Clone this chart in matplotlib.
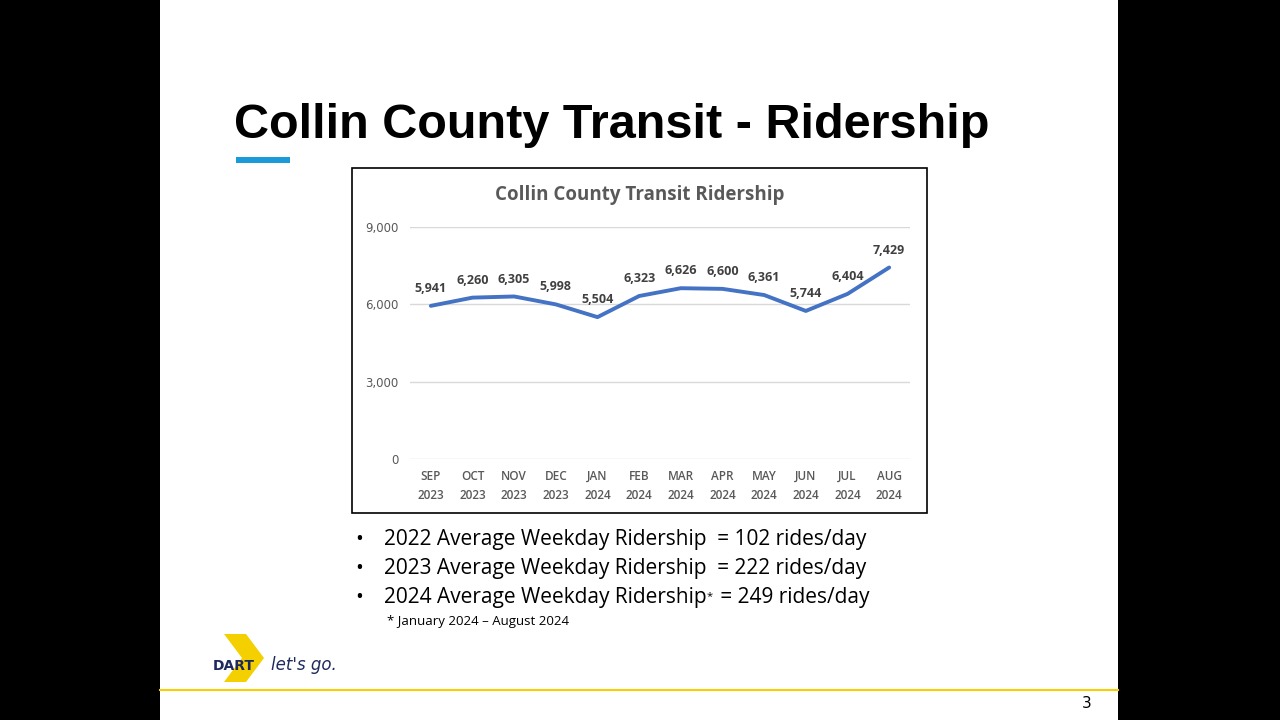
import matplotlib.pyplot as plt
from matplotlib.patches import Rectangle, Polygon

months = ["SEP\n2023", "OCT\n2023", "NOV\n2023", "DEC\n2023", "JAN\n2024", "FEB\n2024",
          "MAR\n2024", "APR\n2024", "MAY\n2024", "JUN\n2024", "JUL\n2024", "AUG\n2024"]
riders = [5941, 6260, 6305, 5998, 5504, 6323, 6626, 6600, 6361, 5744, 6404, 7429]
yticks = [0, 3000, 6000, 9000]
bullets = ["2022 Average Weekday Ridership  = 102 rides/day",
           "2023 Average Weekday Ridership  = 222 rides/day",
           "2024 Average Weekday Ridership",
           ]

W, H = 1280, 720
fig = plt.figure(figsize=(12.8, 7.2), dpi=100)
fig.patch.set_facecolor("black")

def px(x, y):
    return x / W, 1 - y / H

# white slide
fig.patches.append(Rectangle(px(160, 720), 958 / W, 720 / H, transform=fig.transFigure,
                             facecolor="white", zorder=0))
fig.text(*px(234, 125), "Collin County Transit - Ridership", fontsize=35, fontweight="bold",
         fontfamily="Liberation Sans", va="center", ha="left")
fig.patches.append(Rectangle(px(236, 163), 54 / W, 6 / H, transform=fig.transFigure,
                             facecolor="#1a9ad6", zorder=1))

# chart frame
fig.patches.append(Rectangle(px(352, 513), 575 / W, 345 / H, transform=fig.transFigure,
                             facecolor="white", edgecolor="black", linewidth=1.2, zorder=1))
fig.text(*px(640, 195), "Collin County Transit Ridership", fontsize=13.5, fontweight="bold",
         color="#595959", ha="center", va="center", fontfamily="Open Sans")

x0, x1, y0, y1 = 410, 910, 459, 227
ax = fig.add_axes([x0 / W, 1 - y0 / H, (x1 - x0) / W, (y0 - y1) / H])
ax.set_zorder(2)
ax.patch.set_alpha(0)
xs = range(len(riders))
ax.plot(xs, riders, color="#4472c4", linewidth=2.8, solid_capstyle="round")
for x, v in zip(xs, riders):
    ax.annotate(f"{v:,}", (x, v), xytext=(0, 10), textcoords="offset points", ha="center",
                fontsize=9, fontweight="bold", color="#404040", fontfamily="Open Sans")
ax.set_xlim(-0.5, len(riders) - 0.5)
ax.set_ylim(0, 9000)
ax.set_yticks(yticks)
ax.set_yticklabels([f"{t:,}" for t in yticks], fontsize=8.5, color="#595959")
ax.set_xticks(list(xs))
ax.set_xticklabels(months, fontsize=8.5, color="#595959", fontfamily="Open Sans",
                   fontweight="semibold", linespacing=1.6)
ax.tick_params(length=0, pad=8)
ax.grid(axis="y", color="#d9d9d9", linewidth=1)
ax.set_axisbelow(True)
for s in ax.spines.values():
    s.set_visible(False)

# bullets
for i, b in enumerate(bullets):
    y = 540 + i * 28.5
    fig.text(*px(355, y), "•", fontsize=15, va="center", fontfamily="Open Sans")
    fig.text(*px(384, y), b, fontsize=15, va="center", fontfamily="Open Sans")
fig.text(*px(707, 597), "*", fontsize=8, va="center", fontfamily="Open Sans")
fig.text(*px(715, 597), " = 249 rides/day", fontsize=15, va="center", fontfamily="Open Sans")
fig.text(*px(387, 621), "* January 2024 – August 2024", fontsize=9.5, va="center",
         fontfamily="Open Sans")

# logo
fig.patches.append(Polygon([px(224, 634), px(246, 634), px(264, 658), px(246, 682), px(224, 682),
                            px(242, 658)], closed=True, transform=fig.transFigure,
                           facecolor="#f5d000", zorder=1))
fig.text(*px(213, 666), "DART", fontsize=10, fontweight="bold", color="#1f2a5c",
         va="center", zorder=3)
fig.text(*px(271, 665), "let's go.", fontsize=12, fontstyle="italic", color="#1f2a5c", va="center")

fig.lines.append(plt.Line2D([160 / W, 1118 / W], [1 - 690 / H] * 2, transform=fig.transFigure,
                            color="#f5d000", linewidth=1.5))
fig.text(*px(1087, 704), "3", fontsize=11, ha="center", va="center")

fig.savefig("out.png", dpi=100, facecolor=fig.get_facecolor())
